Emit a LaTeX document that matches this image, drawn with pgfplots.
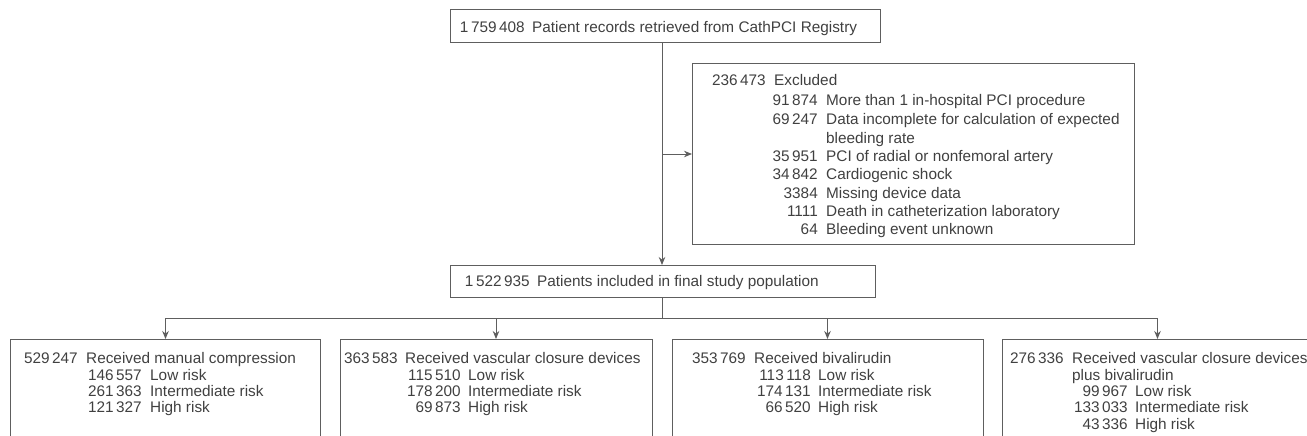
\documentclass[border=0pt]{standalone}
\usepackage{pgfplots}
\pgfplotsset{compat=1.18}
\usetikzlibrary{arrows.meta}
\usepackage{fontspec}
\setmainfont{Liberation Sans}
\definecolor{txt}{HTML}{404040}
\definecolor{ln}{HTML}{5E5E5E}
\newcommand\ff{\fontsize{15.4}{18}\selectfont}
\newcommand\row[5]{%
  \node[anchor=base east,inner sep=0pt,text=txt,font=\ff] at (axis cs:#1,#3) {#4};
  \node[anchor=base west,inner sep=0pt,text=txt,font=\ff] at (axis cs:#2,#3) {#5};}
\begin{document}
\begin{tikzpicture}
\path[use as bounding box, clip] (0,0) rectangle (1307bp,436bp);
\begin{axis}[at={(0,0)}, anchor=south west, width=1307bp, height=436bp,
  scale only axis, xmin=0, xmax=1307, ymin=0, ymax=436, y dir=reverse,
  axis lines=none, clip=false]
% boxes
\draw[ln, line width=1bp] (axis cs:450,10) rectangle (axis cs:880,43);
\draw[ln, line width=1bp] (axis cs:692,64) rectangle (axis cs:1134,244);
\draw[ln, line width=1bp] (axis cs:450,265) rectangle (axis cs:875,297);
\draw[ln, line width=1bp] (axis cs:10,339) rectangle (axis cs:320,460);
\draw[ln, line width=1bp] (axis cs:340,339) rectangle (axis cs:652,460);
\draw[ln, line width=1bp] (axis cs:672,339) rectangle (axis cs:983,460);
\draw[ln, line width=1bp] (axis cs:1002,339) rectangle (axis cs:1320,460);
% connectors
\draw[ln, line width=1bp, -{Stealth[length=8bp,width=6.5bp]}] (axis cs:662,43) -- (axis cs:662,265);
\draw[ln, line width=1bp, -{Stealth[length=8bp,width=6.5bp]}] (axis cs:662,154) -- (axis cs:692,154);
\draw[ln, line width=1bp] (axis cs:662,297) -- (axis cs:662,318);
\draw[ln, line width=1bp] (axis cs:165.5,318) -- (axis cs:1157.5,318);
\draw[ln, line width=1bp, -{Stealth[length=8bp,width=6.5bp]}] (axis cs:165.5,318) -- (axis cs:165.5,339);
\draw[ln, line width=1bp, -{Stealth[length=8bp,width=6.5bp]}] (axis cs:496,318) -- (axis cs:496,339);
\draw[ln, line width=1bp, -{Stealth[length=8bp,width=6.5bp]}] (axis cs:827.5,318) -- (axis cs:827.5,339);
\draw[ln, line width=1bp, -{Stealth[length=8bp,width=6.5bp]}] (axis cs:1157.5,318) -- (axis cs:1157.5,339);
% top box
\row{525}{532}{33}{1\,759\,408}{Patient records retrieved from CathPCI Registry}
% excluded
\row{766}{774}{86}{236\,473}{Excluded}
\row{818}{826}{105.5}{91\,874}{More than 1 in-hospital PCI procedure}
\row{818}{826}{124.5}{69\,247}{Data incomplete for calculation of expected}
\row{818}{826}{143}{}{bleeding rate}
\row{818}{826}{161}{35\,951}{PCI of radial or nonfemoral artery}
\row{818}{826}{179.5}{34\,842}{Cardiogenic shock}
\row{818}{826}{198}{3384}{Missing device data}
\row{818}{826}{216}{1111}{Death in catheterization laboratory}
\row{818}{826}{234.5}{64}{Bleeding event unknown}
% final
\row{530}{537}{286}{1\,522\,935}{Patients included in final study population}
% box 1
\row{78}{86}{363.5}{529\,247}{Received manual compression}
\row{142}{150}{380}{146\,557}{Low risk}
\row{142}{150}{396}{261\,363}{Intermediate risk}
\row{142}{150}{412.5}{121\,327}{High risk}
% box 2
\row{398}{405}{363.5}{363\,583}{Received vascular closure devices}
\row{461}{468}{380}{115\,510}{Low risk}
\row{461}{468}{396}{178\,200}{Intermediate risk}
\row{461}{468}{412.5}{69\,873}{High risk}
% box 3
\row{746}{754}{363.5}{353\,769}{Received bivalirudin}
\row{811}{818}{380}{113\,118}{Low risk}
\row{811}{818}{396}{174\,131}{Intermediate risk}
\row{811}{818}{412.5}{66\,520}{High risk}
% box 4
\row{1064}{1072}{363.5}{276\,336}{Received vascular closure devices}
\row{1064}{1072}{380}{}{plus bivalirudin}
\row{1128}{1135}{396}{99\,967}{Low risk}
\row{1128}{1135}{412.5}{133\,033}{Intermediate risk}
\row{1128}{1135}{429}{43\,336}{High risk}
\end{axis}
\end{tikzpicture}
\end{document}
